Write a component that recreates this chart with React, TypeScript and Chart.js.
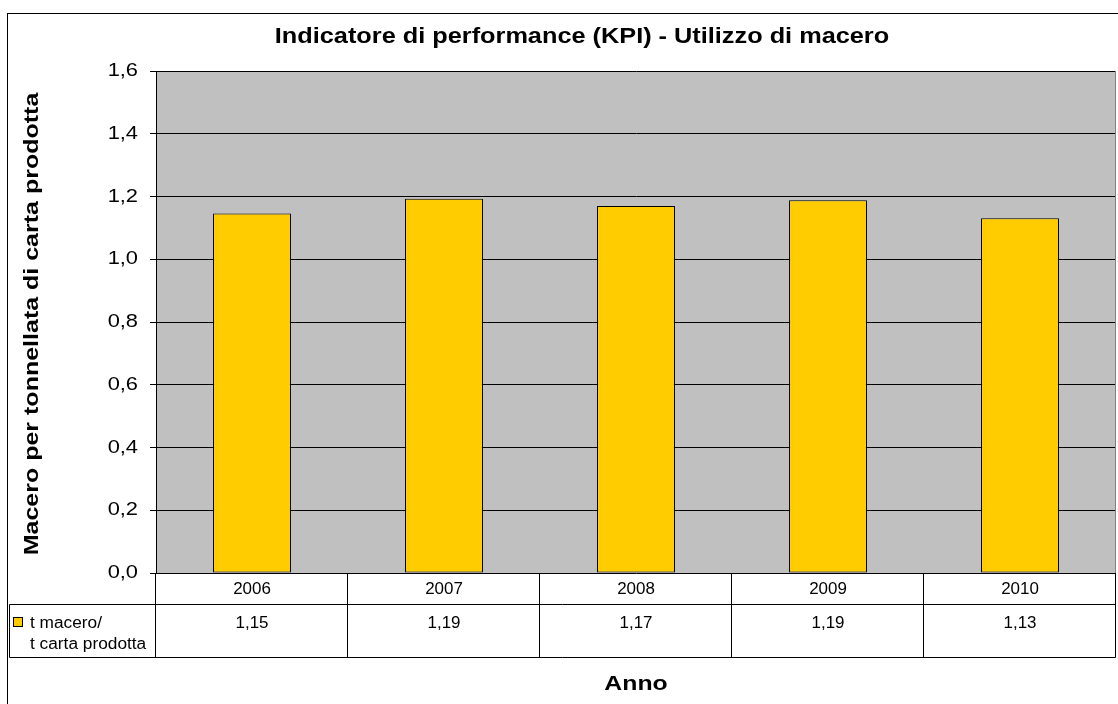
import React, { useEffect, useRef } from "react";
import { Chart, registerables } from "chart.js";

Chart.register(...registerables);

const titleText = "Indicatore di performance (KPI) - Utilizzo di macero";
const yAxisTitle = "Macero per tonnellata di carta prodotta";
const xAxisTitle = "Anno";
const categories = ["2006", "2007", "2008", "2009", "2010"];
const values = [1.146, 1.193, 1.17, 1.188, 1.131];
const tableValues = ["1,15", "1,19", "1,17", "1,19", "1,13"];
const seriesLabel = ["t macero/", "t carta prodotta"];
const yMin = 0;
const yMax = 1.6;
const yStep = 0.2;

const FONT = '"Liberation Sans", Arial, sans-serif';
const BAR_COLOR = "#FFCC00";
const PLOT_BG = "#C0C0C0";

// draws text stretched along its reading direction (wide GDI-like rendering)
function wide(ctx: any, text: string, x: number, y: number, s: number, align: string) {
  ctx.save();
  ctx.translate(x, y);
  ctx.scale(s, 1);
  ctx.textAlign = align;
  ctx.fillText(text, 0, 0);
  ctx.restore();
}

const fmt = (v: number) => v.toFixed(1).replace(".", ",");

const decor = {
  id: "decor",
  beforeDraw(chart: any) {
    const { ctx, chartArea: a } = chart;
    ctx.save();
    ctx.fillStyle = "#ffffff";
    ctx.fillRect(0, 0, chart.width, chart.height);
    ctx.fillStyle = PLOT_BG;
    ctx.fillRect(a.left, a.top, a.right - a.left, a.bottom - a.top);
    ctx.restore();
  },
  afterDraw(chart: any) {
    const { ctx, chartArea: a } = chart;
    const x = chart.scales.x;
    const y = chart.scales.y;
    const n = categories.length;
    const colW = (a.right - a.left) / n;
    ctx.save();

    // outer border
    ctx.strokeStyle = "#000";
    ctx.lineWidth = 1;
    ctx.strokeRect(7.5, 13.5, chart.width + 10, chart.height + 10);

    // plot right border
    ctx.strokeStyle = "#808080";
    ctx.beginPath();
    ctx.moveTo(Math.round(a.right) - 0.5, a.top);
    ctx.lineTo(Math.round(a.right) - 0.5, a.bottom);
    ctx.stroke();

    ctx.fillStyle = "#000";
    ctx.textBaseline = "alphabetic";

    // y tick labels
    ctx.font = `19px ${FONT}`;
    ctx.textBaseline = "middle";
    y.ticks.forEach((t: any) => {
      wide(ctx, fmt(t.value), 138, y.getPixelForValue(t.value), 1.15, "right");
    });
    ctx.textBaseline = "alphabetic";

    // title
    ctx.font = `bold 22px ${FONT}`;
    wide(ctx, titleText, 582, 43, 1.15, "center");

    // y axis title
    ctx.save();
    ctx.translate(38, 324);
    ctx.rotate(-Math.PI / 2);
    ctx.font = `bold 20px ${FONT}`;
    wide(ctx, yAxisTitle, 0, 0, 1.25, "center");
    ctx.restore();

    // x axis title
    ctx.font = `bold 21px ${FONT}`;
    wide(ctx, xAxisTitle, (a.left + a.right) / 2, 690, 1.18, "center");

    // data table
    const r0 = Math.round(a.bottom) + 0.5;
    const r1 = r0 + 31;
    const r2 = r0 + 84;
    const tl = 9.5;
    const tr = Math.round(a.right) - 0.5;
    ctx.strokeStyle = "#000";
    ctx.lineWidth = 1;
    ctx.beginPath();
    ctx.moveTo(tl, r1);
    ctx.lineTo(tr, r1);
    ctx.moveTo(tl, r2);
    ctx.lineTo(tr, r2);
    ctx.moveTo(tl, r1);
    ctx.lineTo(tl, r2);
    for (let i = 0; i <= n; i++) {
      const cx = Math.round(a.left + i * colW) - 0.5;
      ctx.moveTo(cx, r0);
      ctx.lineTo(cx, r2);
    }
    ctx.stroke();

    ctx.font = `16px ${FONT}`;
    categories.forEach((c, i) => {
      const cx = x.getPixelForValue(i);
      wide(ctx, c, cx, r0 + 20, 1.06, "center");
      wide(ctx, tableValues[i], cx, r0 + 54, 1.06, "center");
    });

    // legend key
    ctx.fillStyle = BAR_COLOR;
    ctx.fillRect(13.5, r1 + 13, 9, 9);
    ctx.strokeStyle = "#000";
    ctx.strokeRect(13.5, r1 + 13, 9, 9);
    ctx.fillStyle = "#000";
    wide(ctx, seriesLabel[0], 30, r1 + 23, 1.08, "left");
    wide(ctx, seriesLabel[1], 30, r1 + 44, 1.08, "left");

    ctx.restore();
  },
};

export default function App() {
  const ref = useRef<HTMLCanvasElement>(null);
  useEffect(() => {
    if (!ref.current) return;
    const chart = new Chart(ref.current, {
      type: "bar",
      data: {
        labels: categories,
        datasets: [
          {
            label: seriesLabel.join(" "),
            data: values,
            backgroundColor: BAR_COLOR,
            borderColor: "#000",
            borderWidth: 1,
            borderSkipped: false,
            categoryPercentage: 1,
            barPercentage: 0.406,
          },
        ],
      },
      options: {
        animation: false,
        responsive: false,
        devicePixelRatio: 1,
        layout: { padding: { left: 0, top: 71, right: 2, bottom: 131 } },
        plugins: {
          legend: { display: false },
          tooltip: { enabled: false },
          title: { display: false },
        },
        scales: {
          x: { display: false },
          y: {
            min: yMin,
            max: yMax,
            ticks: {
              display: false,
              stepSize: yStep,
              font: { family: FONT, size: 19 },
            },
            grid: { color: "#000", tickLength: 6, lineWidth: 1 },
            border: { display: true, color: "#000", width: 1 },
            afterFit: (scale: any) => {
              scale.width = 156;
            },
          },
        },
      },
      plugins: [decor],
    });
    return () => chart.destroy();
  }, []);
  return (
    <div style={{ position: "absolute", left: 0, top: 0, width: 1118, height: 704 }}>
      <canvas ref={ref} width={1118} height={704} />
    </div>
  );
}
